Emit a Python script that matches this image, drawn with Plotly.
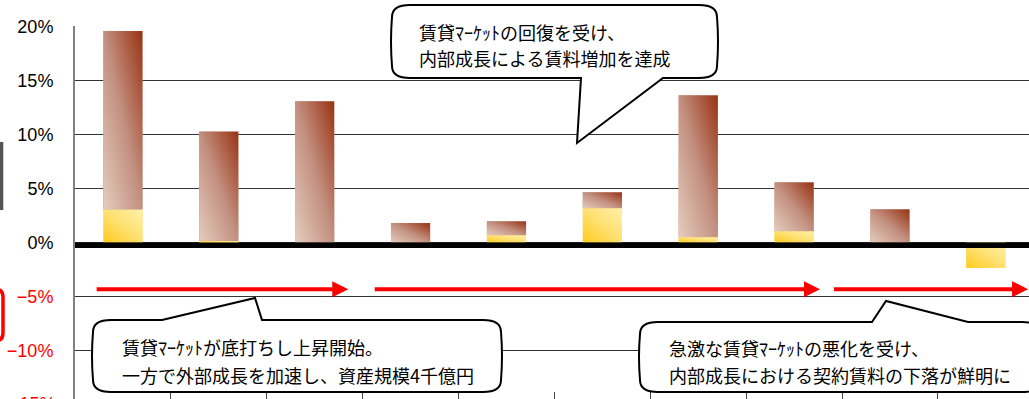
import base64
import plotly.graph_objects as go

# 期ごとの増減率(%)
periods = ["第1期", "第2期", "第3期", "第4期", "第5期", "第6期", "第7期", "第8期", "第9期", "第10期"]
internal = [3.05, 0.15, 0.0, 0.0, 0.67, 3.17, 0.5, 1.04, 0.0, -2.37]      # 黄色
external = [16.55, 10.15, 13.1, 1.8, 1.3, 1.49, 13.15, 4.54, 3.08, 0.0]   # 茶色

ytick_vals = [-10, -5, 0, 5, 10, 15, 20]
ytick_text = ["<span style='color:#ff0000'>−10%</span>",
              "<span style='color:#ff0000'>−5%</span>",
              "0%", "5%", "10%", "15%", "20%"]

# 吹き出しのテキスト
note_top = ["賃貸ﾏｰｹｯﾄの回復を受け、", "内部成長による賃料増加を達成"]
note_left = ["賃貸ﾏｰｹｯﾄが底打ちし上昇開始。", "一方で外部成長を加速し、資産規模4千億円"]
note_right = ["急激な賃貸ﾏｰｹｯﾄの悪化を受け、", "内部成長における契約賃料の下落が鮮明に"]

# 矢印(期の区切り)
phases = [(-0.29, 2.35), (2.61, 7.27), (7.40, 9.44)]

BAR_W = 0.41
X = list(range(len(periods)))

# プロット領域(ピクセル)
L, T, W, H = 75, 26, 954, 373


def px(x):
    return (x - L) / W


def py(y):
    return (T + H - y) / H


def P(x, y):
    return f"{px(x):.5f},{py(y):.5f}"


def gradient_uri(c0, c1, c2):
    svg = ("<svg xmlns='http://www.w3.org/2000/svg' width='10' height='10' "
           "viewBox='0 0 10 10' preserveAspectRatio='none'>"
           "<defs><linearGradient id='g' x1='0' y1='1' x2='1' y2='0'>"
           f"<stop offset='0' stop-color='{c0}'/>"
           f"<stop offset='0.5' stop-color='{c1}'/>"
           f"<stop offset='1' stop-color='{c2}'/>"
           "</linearGradient></defs>"
           "<rect width='10' height='10' fill='url(#g)'/></svg>")
    return "data:image/svg+xml;base64," + base64.b64encode(svg.encode()).decode()


brown_img = gradient_uri("#e4cdbe", "#c39080", "#983212")
yellow_img = gradient_uri("#ffcb1c", "#ffe070", "#fff0aa")


def bubble(l, t, r, b, tail, side, rx=18, ry=12, bulge=2):
    b0, tx, ty, b1 = tail
    d = f"M{P(l + rx, t)}"
    if side == "top":
        d += f" L{P(b0, t)} L{P(tx, ty)} L{P(b1, t)}"
    d += (f" L{P(r - rx, t)} Q{P(r, t)} {P(r, t + ry)}"
          f" Q{P(r + bulge, (t + b) / 2)} {P(r, b - ry)}"
          f" Q{P(r, b)} {P(r - rx, b)}")
    if side == "bottom":
        d += f" L{P(b1, b)} L{P(tx, ty)} L{P(b0, b)}"
    d += (f" L{P(l + rx, b)} Q{P(l, b)} {P(l, b - ry)}"
          f" Q{P(l - bulge, (t + b) / 2)} {P(l, t + ry)}"
          f" Q{P(l, t)} {P(l + rx, t)} Z")
    return dict(type="path", path=d, xref="paper", yref="paper",
                line=dict(color="black", width=2), fillcolor="white", layer="above")


def round_box(l, t, r, b, rad):
    d = (f"M{P(l + rad, t)} L{P(r - rad, t)} Q{P(r, t)} {P(r, t + rad)}"
         f" L{P(r, b - rad)} Q{P(r, b)} {P(r - rad, b)}"
         f" L{P(l + rad, b)} Q{P(l, b)} {P(l, b - rad)}"
         f" L{P(l, t + rad)} Q{P(l, t)} {P(l + rad, t)} Z")
    return dict(type="path", path=d, xref="paper", yref="paper",
                line=dict(color="#ff0000", width=3.5), fillcolor="rgba(0,0,0,0)")


fig = go.Figure()
fig.add_trace(go.Bar(x=X, y=internal, width=BAR_W, name="内部成長",
                     marker=dict(color="#ffdd66", line=dict(width=0)),
                     customdata=periods, hovertemplate="%{customdata}: %{y:.2f}%<extra></extra>"))
fig.add_trace(go.Bar(x=X, y=external, width=BAR_W, name="外部成長",
                     marker=dict(color="#c49282", line=dict(width=0)),
                     customdata=periods, hovertemplate="%{customdata}: %{y:.2f}%<extra></extra>"))

# グラデーション
images = []
for i in X:
    segs = []
    if internal[i] != 0:
        top = internal[i] if internal[i] > 0 else 0
        segs.append((yellow_img, top, abs(internal[i])))
    if external[i] != 0:
        base = internal[i] if internal[i] > 0 else 0
        segs.append((brown_img, base + external[i], external[i]))
    for src, top, size in segs:
        images.append(dict(source=src, xref="x", yref="y", x=i, y=top,
                           sizex=BAR_W, sizey=size, xanchor="center", yanchor="top",
                           sizing="stretch", layer="above"))

shapes = [
    # ゼロ線
    dict(type="rect", xref="paper", yref="y", x0=0, x1=1, y0=0, y1=-0.5,
         fillcolor="black", line=dict(width=0), layer="above"),
    bubble(392, 5, 717, 78, (581, 577, 143, 663), "bottom"),
    bubble(93, 320, 501, 392, (162, 255, 298, 262), "top"),
    bubble(640, 322, 1040, 392, (872, 886, 301, 968), "top"),
    # 左端の切れた図形
    dict(type="rect", xref="paper", yref="paper", x0=px(-5), x1=px(3.3), y0=py(210), y1=py(142),
         fillcolor="#555555", line=dict(width=0)),
    round_box(-30, 289, 3, 341, 8),
]

annotations = []
for x0, x1 in phases:
    annotations.append(dict(x=x1, y=-4.32, ax=x0, ay=-4.32, xref="x", yref="y",
                            axref="x", ayref="y", text="", showarrow=True,
                            arrowhead=2, arrowsize=0.8, arrowwidth=4,
                            arrowcolor="#ff0000", standoff=0))

text_font = dict(family="Noto Sans CJK JP", size=18, color="black")
for lines, x, ys in [(note_top, 417, (32, 58)),
                     (note_left, 120, (347, 375)),
                     (note_right, 667, (348, 375))]:
    for line, y in zip(lines, ys):
        annotations.append(dict(x=px(x), y=py(y), xref="paper", yref="paper",
                                xanchor="left", yanchor="middle", text=line,
                                showarrow=False, font=text_font))

# 下端で切れた −15% の目盛ラベル
annotations.append(dict(x=px(58), y=py(404), xref="paper", yref="paper",
                        xanchor="right", yanchor="middle", text="−15%", showarrow=False,
                        font=dict(family="Liberation Sans", size=18, color="#ff0000")))

fig.update_layout(
    width=1029, height=399,
    margin=dict(l=L, r=0, t=T, b=0),
    barmode="relative",
    showlegend=False,
    paper_bgcolor="white",
    plot_bgcolor="white",
    images=images,
    shapes=shapes,
    annotations=annotations,
    font=dict(family="Liberation Sans", size=18, color="black"),
)
fig.update_xaxes(range=[-0.5, 9.45], tickvals=[k + 0.5 for k in range(9)],
                 showticklabels=False, ticks="inside", ticklen=7, tickcolor="#444444",
                 showgrid=False, zeroline=False, showline=False)
fig.update_yaxes(range=[-14.5, 20.065], tickvals=ytick_vals, ticktext=ytick_text,
                 showgrid=True, gridcolor="#333333", gridwidth=1, zeroline=False,
                 showline=True, linecolor="#808080", linewidth=2, ticks="",
                 ticklabelstandoff=16, tickfont=dict(family="Liberation Sans", size=18))

fig.write_html("out.html", config={"displayModeBar": False},
               post_script="document.body.style.margin='0';")
